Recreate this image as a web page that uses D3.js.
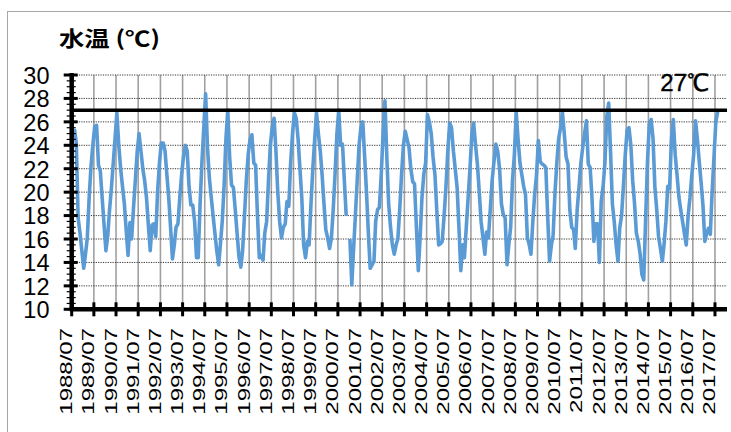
<!doctype HTML>
<html lang="ja">
<head>
<meta charset="utf-8">
<title>水温</title>
<script src="https://d3js.org/d3.v7.min.js"></script>
<style type="text/css">
  body { margin: 0; background: #fff; }
  svg { display: block; }
  .ylab, .xlab, .limitlab { font-family: "Liberation Sans", Arial, sans-serif; fill: #000; }
  .title { font-family: "Noto Sans CJK JP", sans-serif; font-weight: bold; fill: #000; }
</style>
</head>
<body>
<script type="text/javascript">

// monthly water temperature, first value = 1988/08, one row per year (Aug..Jul)
var startMonth = "1988/08";
var temps = [
  25.4, 24.2, 17.8, 16.5, 15.0, 13.5, 14.8, 16.1, 19.6, 22.2, 24.1, 25.6,
  25.7, 22.3, 21.8, 19.5, 17.3, 15.0, 16.3, 18.4, 20.3, 22.4, 24.6, 26.8,
  24.0, 22.0, 20.5, 19.0, 16.8, 14.6, 17.4, 16.0, 18.7, 21.0, 23.5, 25.0,
  23.5, 22.0, 21.0, 19.5, 17.2, 15.0, 17.2, 17.3, 16.2, 20.0, 22.5, 24.2,
  24.2, 23.5, 21.5, 19.5, 17.0, 14.3, 15.5, 17.0, 17.3, 19.5, 21.5, 23.0,
  24.0, 23.5, 20.5, 18.9, 18.9, 17.5, 14.4, 14.4, 19.0, 22.5, 25.5, 28.4,
  23.8, 21.2, 19.6, 18.0, 16.5, 15.0, 13.8, 15.5, 17.5, 20.5, 24.6, 27.0,
  23.0, 20.6, 20.4, 18.5, 16.5, 14.5, 13.6, 15.0, 18.0, 21.0, 23.2, 24.5,
  24.9, 22.5, 22.3, 18.0, 14.4, 14.6, 14.2, 16.5, 17.5, 21.0, 24.0, 25.5,
  26.3, 23.5, 20.0, 17.5, 16.1, 17.0, 17.3, 19.2, 18.8, 22.5, 25.0, 26.8,
  26.3, 24.5, 22.0, 19.5, 15.5, 14.4, 15.8, 15.5, 19.0, 22.0, 24.5, 26.8,
  25.0, 23.5, 21.5, 19.0, 16.8, 16.1, 15.2, 16.0, 18.5, 21.5, 25.0, 27.0,
  24.0, 24.1, 21.0, 18.0, null, 16.0, 12.1, 15.0, 18.0, 21.0, 24.0, 25.5,
  26.0, 23.0, 20.0, 16.5, 13.5, 13.8, 14.1, 17.5, 18.5, 18.7, 21.5, 25.0,
  27.8, 23.0, 19.0, 17.0, 15.5, 14.7, 15.5, 16.0, 18.5, 21.5, 24.0, 25.2,
  24.5, 23.8, 22.0, 20.9, 20.7, 17.0, 13.3, 16.0, 19.5, 21.5, 22.5, 26.6,
  26.0, 25.0, 23.0, 21.5, 18.5, 15.5, 15.6, 15.8, 18.0, 20.4, 23.5, 25.9,
  25.5, 23.5, 22.0, 20.4, 17.0, 13.3, 15.5, 14.4, 17.0, 19.5, 22.0, 24.9,
  25.9, 24.0, 22.4, 20.0, 17.5, 16.1, 14.7, 16.6, 16.1, 18.5, 21.0, 22.6,
  24.1, 23.5, 22.0, 19.0, 18.1, 17.8, 13.8, 15.5, 17.0, 21.0, 23.2, 26.8,
  24.5, 22.5, 21.5, 20.5, 19.8, 16.1, 15.5, 14.7, 17.5, 19.8, 21.5, 24.4,
  22.6, 22.4, 22.3, 22.1, 18.0, 14.1, 15.5, 16.3, 20.0, 22.5, 24.6, 25.5,
  26.8, 25.0, 23.0, 22.4, 18.5, 17.0, 16.8, 15.2, 18.5, 20.4, 22.5, 23.8,
  25.0, 26.1, 22.4, 22.1, 19.5, 15.8, 17.3, 17.3, 14.0, 19.2, 20.5, 22.5,
  26.5, 27.6, 23.5, 19.0, 17.5, 15.5, 14.1, 16.9, 18.0, 20.5, 23.2, 25.3,
  25.5, 24.0, 21.0, 19.0, 16.5, 15.8, 14.7, 13.0, 12.5, 17.5, 22.5, 25.8,
  26.2, 24.6, 20.5, 18.5, 16.2, 15.2, 14.1, 15.5, 17.5, 20.5, 20.3, 24.5,
  26.2, 23.2, 21.5, 19.6, 18.5, 17.5, 16.4, 15.5, 18.0, 19.5, 21.5, 23.2,
  26.1, 24.5, 22.6, 20.8, 18.9, 15.8, 16.5, 16.9, 16.4, 20.0, 23.0, 26.0,
  26.9
];

var tickLabels = [
  "1988/07", "1989/07", "1990/07", "1991/07", "1992/07", "1993/07",
  "1994/07", "1995/07", "1996/07", "1997/07", "1998/07", "1999/07",
  "2000/07", "2001/07", "2002/07", "2003/07", "2004/07", "2005/07",
  "2006/07", "2007/07", "2008/07", "2009/07", "2010/07", "2011/07",
  "2012/07", "2013/07", "2014/07", "2015/07", "2016/07", "2017/07"
];

var yTicks = [10, 12, 14, 16, 18, 20, 22, 24, 26, 28, 30];
var limitValue = 27;
var limitLabel = "27℃";
var titleText = "水温 (℃)";

// chart geometry
var W = 731, H = 432;
var plot = {left: 71.7, right: 727, top: 75, bottom: 309.3};

var parseMonth = d3.timeParse("%Y/%m");
var start = parseMonth(startMonth);

// each reading sits in the middle of its month
var data = temps.map(function(v, i) {
  return { Date: new Date(start.getFullYear(), start.getMonth() + i, 15), Value: v };
});

var svg = d3.select("body").append("svg")
  .attr("width", W)
  .attr("height", H);

// outer frame (right and bottom edges are cut off in the reference)
svg.append("rect")
  .attr("x", 7.5).attr("y", 11.5)
  .attr("width", 740).attr("height", 440)
  .attr("fill", "none")
  .attr("stroke", "#a6a6a6")
  .attr("stroke-width", 1);

var x = d3.scaleTime()
  .domain([parseMonth("1988/07"), new Date(2018, 0, 15)])
  .range([plot.left, plot.right]);

var y = d3.scaleLinear()
  .domain([10, 30])
  .range([plot.bottom, plot.top]);

var tickDates = tickLabels.map(function(t) { return parseMonth(t); });

// vertical grid lines, one per year
svg.append("g")
  .selectAll("line")
  .data(tickDates.slice(1))
  .enter()
  .append("line")
  .attr("x1", function(d) { return x(d); })
  .attr("x2", function(d) { return x(d); })
  .attr("y1", plot.top)
  .attr("y2", plot.bottom)
  .attr("stroke", "#a0a0a0")
  .attr("stroke-width", 1.6);

// horizontal dotted grid lines
svg.append("g")
  .selectAll("line")
  .data(yTicks.slice(1))
  .enter()
  .append("line")
  .attr("x1", plot.left)
  .attr("x2", plot.right)
  .attr("y1", function(d) { return y(d); })
  .attr("y2", function(d) { return y(d); })
  .attr("stroke", "#333")
  .attr("stroke-width", 1)
  .attr("stroke-dasharray", "1.2,1.2");

// the temperature line
svg.append("path")
  .datum(data)
  .attr("fill", "none")
  .attr("stroke", "#5b9bd5")
  .attr("stroke-width", 3.6)
  .attr("stroke-linejoin", "round")
  .attr("d", d3.line()
    .defined(function(d) { return d.Value != null; })
    .x(function(d) { return x(d.Date); })
    .y(function(d) { return y(d.Value); }));

// 27 degree reference line
svg.append("line")
  .attr("x1", plot.left)
  .attr("x2", plot.right)
  .attr("y1", y(limitValue))
  .attr("y2", y(limitValue))
  .attr("stroke", "#000")
  .attr("stroke-width", 3.5);

svg.append("text")
  .attr("class", "limitlab")
  .attr("x", 709)
  .attr("y", 91)
  .attr("text-anchor", "end")
  .attr("font-size", "24px")
  .attr("stroke", "#000")
  .attr("stroke-width", 0.4)
  .text(limitLabel);

// y axis: thick line with major and minor ticks
var yAxis = svg.append("g");
yAxis.append("line")
  .attr("x1", plot.left).attr("x2", plot.left)
  .attr("y1", plot.top - 2).attr("y2", plot.bottom)
  .attr("stroke", "#000").attr("stroke-width", 4.5);

yAxis.selectAll(".major")
  .data(yTicks)
  .enter()
  .append("line")
  .attr("class", "major")
  .attr("x1", plot.left - 8).attr("x2", plot.left + 6)
  .attr("y1", function(d) { return y(d); })
  .attr("y2", function(d) { return y(d); })
  .attr("stroke", "#000").attr("stroke-width", 3);

yAxis.selectAll(".minor")
  .data(d3.range(10.5, 30, 0.5).filter(function(d) { return d % 2 != 0; }))
  .enter()
  .append("line")
  .attr("class", "minor")
  .attr("x1", plot.left - 5).attr("x2", plot.left + 4)
  .attr("y1", function(d) { return y(d); })
  .attr("y2", function(d) { return y(d); })
  .attr("stroke", "#000").attr("stroke-width", 1.2);

yAxis.selectAll("text")
  .data(yTicks)
  .enter()
  .append("text")
  .attr("class", "ylab")
  .attr("text-anchor", "end")
  .attr("font-size", "21px")
  .attr("transform", function(d) {
    return "translate(49.5," + (y(d) + 8.8) + ") scale(1.12,1.15)";
  })
  .text(function(d) { return d; });

// x axis: thick line with crossing year ticks
var xAxis = svg.append("g");
xAxis.append("line")
  .attr("x1", plot.left - 2).attr("x2", plot.right)
  .attr("y1", plot.bottom).attr("y2", plot.bottom)
  .attr("stroke", "#000").attr("stroke-width", 4.5);

xAxis.selectAll(".tick")
  .data(tickDates)
  .enter()
  .append("line")
  .attr("class", "tick")
  .attr("x1", function(d) { return x(d); })
  .attr("x2", function(d) { return x(d); })
  .attr("y1", plot.bottom - 7)
  .attr("y2", plot.bottom + 7)
  .attr("stroke", "#000").attr("stroke-width", 3);

// rotated year labels, stretched along the text direction
xAxis.selectAll("text")
  .data(tickLabels)
  .enter()
  .append("text")
  .attr("class", "xlab")
  .attr("text-anchor", "end")
  .attr("font-size", "16px")
  .attr("transform", function(d) {
    return "translate(" + (x(parseMonth(d)) + 0.5) + ",328) rotate(-90) scale(1.5,1)";
  })
  .text(function(d) { return d; });

// title, stretched to the width it has in the reference
svg.append("text")
  .attr("class", "title")
  .attr("x", 59)
  .attr("y", 46)
  .attr("font-size", "21px")
  .attr("textLength", 101)
  .attr("lengthAdjust", "spacingAndGlyphs")
  .text(titleText);

</script>
</body>
</html>
